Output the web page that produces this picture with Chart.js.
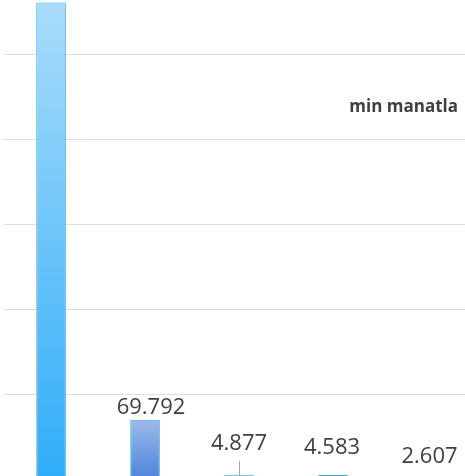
<!DOCTYPE html>
<html>
<head>
<meta charset="utf-8">
<script src="https://cdn.jsdelivr.net/npm/chart.js@4"></script>
<style>
html,body{margin:0;padding:0;width:465px;height:476px;overflow:hidden;background:#fff;}
#wrap{position:absolute;left:0;top:-30px;width:480px;height:510px;}
</style>
</head>
<body>
<div id="wrap"><canvas id="c"></canvas></div>
<script>
// Data
const categories = ['1', '2', '3', '4', '5'];
const values = [561.6, 69.792, 4.877, 4.583, 2.607];
const unitLabel = 'min manatla';
const yTicks = [0, 100, 200, 300, 400, 500, 600];

// Styles (kept separate from data)
const gradTop = ['#a9dcfa', '#9db9ea', '#c4e8fb', '#c8e7f0', '#d8d8d8'];
const gradBottom = ['#2fadf8', '#4d84da', '#7fcff6', '#8ccbe0', '#b0b0b0'];
const borders = ['#4ab2f0', '#46b2f0', '#3db6ee', '#3aa6c6', '#a0a0a0'];
// label offsets relative to bar top-center: [dx, dy above]
const labelOffsets = [[0, 6], [6, 6], [0, 25], [-1, 21], [2.5, 13.5]];
const leaderIdx = 2;

function barFill(ctx) {
  const chart = ctx.chart;
  const i = ctx.dataIndex;
  const y = chart.scales && chart.scales.y;
  if (!chart.chartArea || !y) return gradBottom[i];
  const top = y.getPixelForValue(values[i]);
  const base = y.getPixelForValue(0);
  const g = chart.ctx.createLinearGradient(0, top, 0, Math.max(base, top + 1));
  g.addColorStop(0, gradTop[i]);
  g.addColorStop(1, gradBottom[i]);
  return g;
}

const labelPlugin = {
  id: 'valueLabels',
  beforeDatasetsDraw(chart) {
    const c = chart.ctx;
    c.save();
    c.shadowColor = 'rgba(0,0,0,0.18)';
    c.shadowBlur = 4;
    c.shadowOffsetX = 2;
    c.shadowOffsetY = 1;
  },
  afterDatasetsDraw(chart) {
    const c = chart.ctx;
    c.restore();
    const meta = chart.getDatasetMeta(0);
    c.save();
    c.font = '22px "Open Sans"';
    c.fillStyle = '#404040';
    c.textAlign = 'center';
    c.textBaseline = 'alphabetic';
    meta.data.forEach((bar, i) => {
      const [dx, dy] = labelOffsets[i];
      const tx = bar.x + dx;
      const ty = bar.y - dy;
      c.fillText(values[i].toFixed(3), tx, ty);
      if (i === leaderIdx) {
        c.strokeStyle = '#a6a6a6';
        c.lineWidth = 1;
        c.beginPath();
        c.moveTo(Math.round(bar.x) + 0.5, ty + 11);
        c.lineTo(Math.round(bar.x) + 0.5, bar.y);
        c.stroke();
      }
    });
    // unit label
    c.font = 'bold 17px "Open Sans"';
    c.textAlign = 'right';
    c.fillText(unitLabel, 458, 112 + 30);
    c.restore();
  }
};

new Chart(document.getElementById('c'), {
  type: 'bar',
  data: {
    labels: categories,
    datasets: [{
      data: values,
      backgroundColor: barFill,
      borderColor: borders,
      borderWidth: 1,
      borderSkipped: false,
      categoryPercentage: 1,
      barPercentage: 0.314
    }]
  },
  options: {
    responsive: true,
    maintainAspectRatio: false,
    animation: false,
    layout: { padding: { left: 4, right: 6, top: 0, bottom: 1 } },
    plugins: { legend: { display: false }, tooltip: { enabled: false } },
    scales: {
      x: { display: false },
      y: {
        min: yTicks[0],
        max: yTicks[yTicks.length - 1],
        afterBuildTicks(scale) { scale.ticks = yTicks.map(v => ({ value: v })); },
        ticks: { display: false },
        border: { display: false },
        grid: { color: '#dedede', lineWidth: 1, drawTicks: false }
      }
    }
  },
  plugins: [labelPlugin]
});
</script>
</body>
</html>
